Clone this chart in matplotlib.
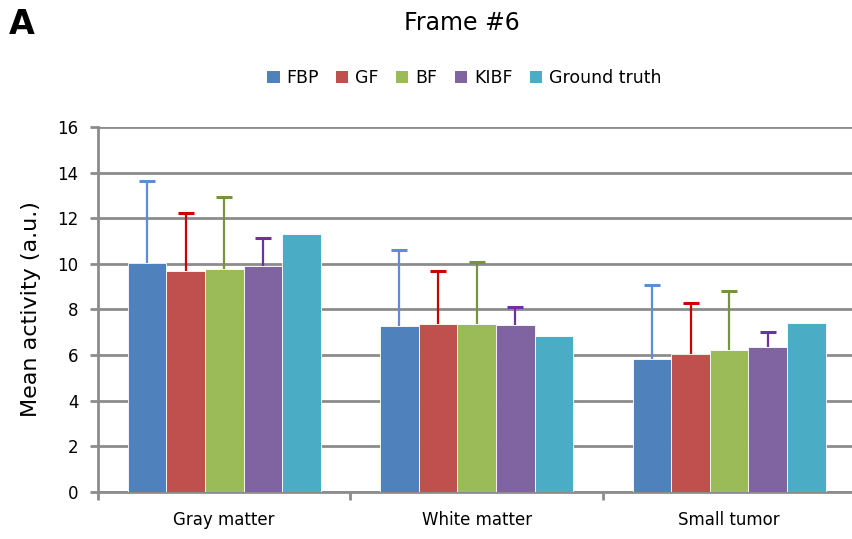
import matplotlib
matplotlib.use("Agg")
import matplotlib.pyplot as plt
import numpy as np
from matplotlib.patches import Patch

categories = ["Gray matter", "White matter", "Small tumor"]
methods = ["FBP", "GF", "BF", "KIBF", "Ground truth"]

fbp = [10.05, 7.26, 5.82]
gf = [9.69, 7.38, 6.07]
bf = [9.76, 7.38, 6.23]
kibf = [9.91, 7.31, 6.37]
truth = [11.31, 6.85, 7.39]

# upper error bar lengths (only drawn upward)
fbp_err = [3.60, 3.34, 3.27]
gf_err = [2.54, 2.29, 2.23]
bf_err = [3.16, 2.72, 2.58]
kibf_err = [1.24, 0.81, 0.66]

values = [fbp, gf, bf, kibf, truth]
errors = [fbp_err, gf_err, bf_err, kibf_err, None]

BAR_COLORS = ["#4F81BD", "#C0504D", "#9BBB59", "#8064A2", "#4BACC6"]
ERR_COLORS = ["#5B8ED6", "#CC0000", "#77933C", "#7030A0", None]
GRID = "#8C8C8C"

fig = plt.figure(figsize=(8.52, 5.39), dpi=100)
ax = fig.add_axes([0.115, 0.0872, 0.889, 0.6772])

x = np.arange(len(categories))
w = 0.153
for i, (vals, err) in enumerate(zip(values, errors)):
    pos = x + (i - 2) * w
    ax.bar(pos, vals, w, color=BAR_COLORS[i], edgecolor="white",
           linewidth=0.6, zorder=3, label=methods[i])
    if err is not None:
        eb = ax.errorbar(pos, vals, yerr=[np.zeros(len(err)), err], fmt="none",
                         ecolor=ERR_COLORS[i], elinewidth=1.6, capsize=5.5,
                         capthick=2.2, zorder=2)
        # hide the lower cap, keep only the upper one
        eb[1][0].set_visible(False)

ax.set_xlim(-0.5, 2.5)
ax.set_ylim(0, 16)
ax.set_yticks(range(0, 17, 2))
ax.yaxis.grid(True, color=GRID, linewidth=2, zorder=0)
ax.set_axisbelow(True)

ax.set_xticks(x)
ax.set_xticklabels(categories, fontsize=12)
ax.tick_params(axis="x", length=0, pad=14)
ax.set_xticks([-0.5, 0.5, 1.5, 2.5], minor=True)
ax.tick_params(axis="x", which="minor", length=6, width=2, color=GRID)
ax.tick_params(axis="y", length=6, width=2, color=GRID, labelsize=12, pad=8)

for s in ["top", "right"]:
    ax.spines[s].set_visible(False)
for s in ["left", "bottom"]:
    ax.spines[s].set_color(GRID)
    ax.spines[s].set_linewidth(2)

ax.set_ylabel("Mean activity (a.u.)", fontsize=16, labelpad=12)

handles = [Patch(facecolor=c, label=m) for c, m in zip(BAR_COLORS, methods)]
fig.legend(handles=handles, loc="center", bbox_to_anchor=(0.545, 0.855),
           ncol=5, frameon=False, fontsize=12.5, handlelength=0.7,
           handleheight=0.7, handletextpad=0.4, columnspacing=1.0)

fig.text(0.542, 0.958, "Frame #6", ha="center", va="center", fontsize=17)
fig.text(0.010, 0.955, "A", ha="left", va="center", fontsize=24,
         fontweight="bold")

fig.savefig("out.png", dpi=100)
